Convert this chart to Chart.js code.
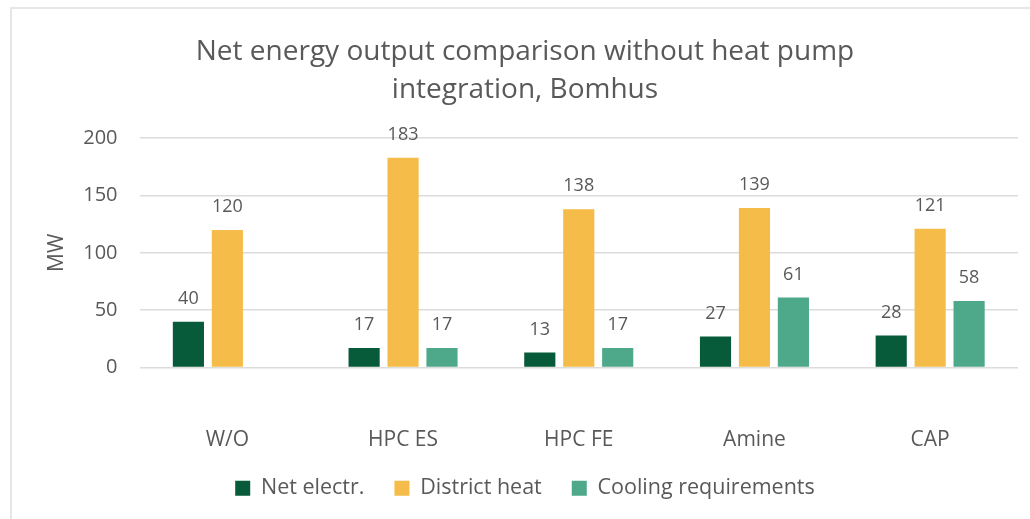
<!DOCTYPE html>
<html>
<head>
<meta charset="utf-8">
<script src="https://cdn.jsdelivr.net/npm/chart.js@4.4.0/dist/chart.umd.min.js"></script>
<style>
  body { margin: 0; background: #fff; }
  #wrap {
    position: absolute; left: 10px; top: 7px; width: 1030px; height: 520px;
    border-left: 2px solid #e6e6e6; border-top: 2px solid #e6e6e6;
  }
</style>
</head>
<body>
<div id="wrap"><canvas id="energyChart"></canvas></div>
<script>
const categories = ['W/O', 'HPC ES', 'HPC FE', 'Amine', 'CAP'];
const netElectr = [40, 17, 13, 27, 28];
const districtHeat = [120, 183, 138, 139, 121];
const coolingReq = [null, 17, 17, 61, 58];
const yTicks = [0, 50, 100, 150, 200];

// value labels above each bar
const barLabels = {
  id: 'barLabels',
  afterDatasetsDraw(chart) {
    const ctx = chart.ctx;
    ctx.save();
    ctx.font = '18px "Open Sans", sans-serif';
    ctx.fillStyle = '#595959';
    ctx.textAlign = 'center';
    ctx.textBaseline = 'bottom';
    chart.data.datasets.forEach(function (ds, i) {
      chart.getDatasetMeta(i).data.forEach(function (bar, j) {
        if (ds.data[j] == null) return;
        ctx.fillText(ds.data[j], bar.x, bar.y - 14);
      });
    });
    ctx.restore();
  }
};

document.addEventListener('DOMContentLoaded', function () {
  const ctx = document.getElementById('energyChart').getContext('2d');
  Chart.defaults.font.family = '"Open Sans", sans-serif';
  Chart.defaults.color = '#595959';

  const data = {
    labels: categories,
    datasets: [{
      label: 'Net electr.',
      data: netElectr,
      backgroundColor: '#075a3a'
    }, {
      label: 'District heat',
      data: districtHeat,
      backgroundColor: '#f5bc49'
    }, {
      label: 'Cooling requirements',
      data: coolingReq,
      backgroundColor: '#4ea88a'
    }]
  };

  const config = {
    type: 'bar',
    data: data,
    plugins: [barLabels],
    options: {
      responsive: false,
      animation: false,
      barPercentage: 0.8,
      categoryPercentage: 0.665,
      layout: { padding: { left: 20, right: 12, top: 24, bottom: 10 } },
      plugins: {
        title: {
          display: true,
          text: ['Net energy output comparison without heat pump', 'integration, Bomhus'],
          font: { size: 28, weight: 'normal', lineHeight: 1.36 },
          color: '#595959',
          padding: { top: 0, bottom: 29 }
        },
        legend: {
          position: 'bottom',
          labels: {
            boxWidth: 15,
            boxHeight: 15,
            padding: 30,
            font: { size: 21.5 },
            color: '#595959'
          }
        },
        tooltip: { enabled: false }
      },
      scales: {
        x: {
          grid: { display: false },
          border: { display: false },
          ticks: { padding: 52, font: { size: 21 }, color: '#595959' },
          afterFit: function (axis) { axis.height = 80; }
        },
        y: {
          min: 0,
          max: 200,
          afterBuildTicks: function (axis) {
            axis.ticks = yTicks.map(function (v) { return { value: v }; });
          },
          grid: { color: '#dcdcdc', lineWidth: 1.5, drawTicks: false },
          border: { display: false },
          ticks: { padding: 22, font: { size: 20 }, color: '#595959' },
          title: { display: true, text: 'MW', font: { size: 21 }, color: '#595959', padding: { top: 12, bottom: -8 } }
        }
      }
    }
  };

  const canvas = document.getElementById('energyChart');
  canvas.width = 1018;
  canvas.height = 510;
  new Chart(ctx, config);
});
</script>
</body>
</html>
